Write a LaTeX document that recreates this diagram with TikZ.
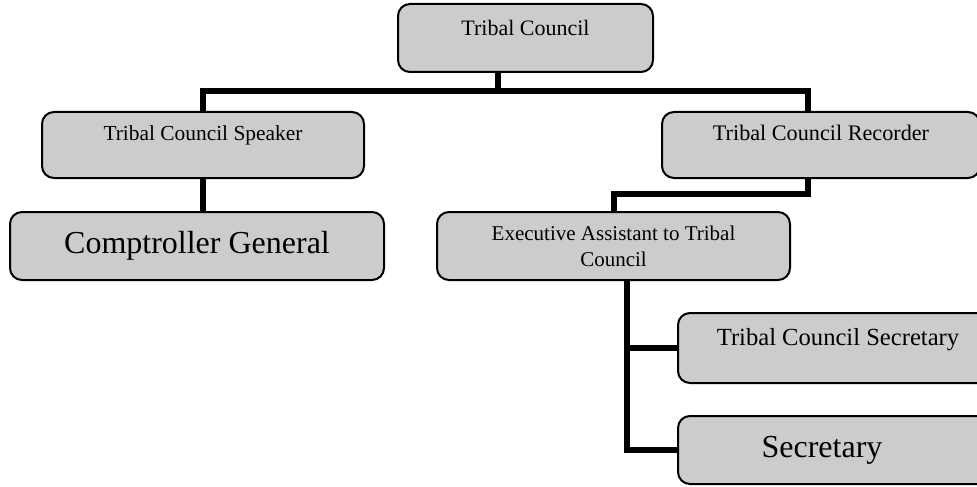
\documentclass[tikz,border=0pt]{standalone}
\usepackage{fontspec}
\setmainfont{Liberation Serif}
\usetikzlibrary{calc}

\begin{document}
\begin{tikzpicture}[x=0.5pt,y=-0.5pt,
  unit/.style={draw,line width=1pt,rounded corners=6pt,fill=black!20,align=center,inner sep=0pt},
  raised/.style={text height=8pt,text depth=#1},
  link/.style={line width=3pt}]
\useasboundingbox (0,0) rectangle (977,486);
\clip (0,0) rectangle (977,486);

% Top level
\node[unit,raised=10.5pt,minimum width=127.5pt,minimum height=34pt,font=\fontsize{11}{13}\selectfont] (tc) at (525.5,38) {Tribal Council};

% Second level
\node[unit,raised=12.5pt,minimum width=161pt,minimum height=33pt,font=\fontsize{10.7}{13}\selectfont] (spk) at (203,145) {Tribal Council Speaker};
\node[unit,raised=12.5pt,minimum width=159pt,minimum height=33pt,font=\fontsize{11.1}{13}\selectfont] (rec) at (821,145) {Tribal Council Recorder};

% Third level
\node[unit,minimum width=187pt,minimum height=34pt,font=\fontsize{16}{18}\selectfont] (cg) at (197,246) {Comptroller General};
\node[unit,minimum width=176.5pt,minimum height=34pt,font=\fontsize{10.5}{13}\selectfont] (ea) at (613.5,246) {Executive Assistant to Tribal\\Council};

% Fourth level
\node[unit,raised=10.5pt,minimum width=160pt,minimum height=35pt,font=\fontsize{12.3}{14}\selectfont] (tcs) at (838,348) {Tribal Council Secretary};
\node[unit,minimum width=160pt,minimum height=34pt,font=\fontsize{16}{18}\selectfont] (sec) at (838,450) {Secretary\hspace*{16pt}};

% Connectors
\coordinate (bus) at (498,91);
\draw[link] (tc.south -| bus) -- (bus);
\draw[link] (spk.north) |- (bus) -| ($(rec.north)+(-13,0)$);
\draw[link] (spk.south) -- (spk.south |- cg.north);
\draw[link] ($(rec.south)+(-13,0)$) -- ++(0,15) -| (ea.north);
\draw[link] ($(ea.south)+(13.5,0)$) |- (tcs.west);
\draw[link] ($(ea.south)+(13.5,0)$) |- (sec.west);

\end{tikzpicture}
\end{document}
